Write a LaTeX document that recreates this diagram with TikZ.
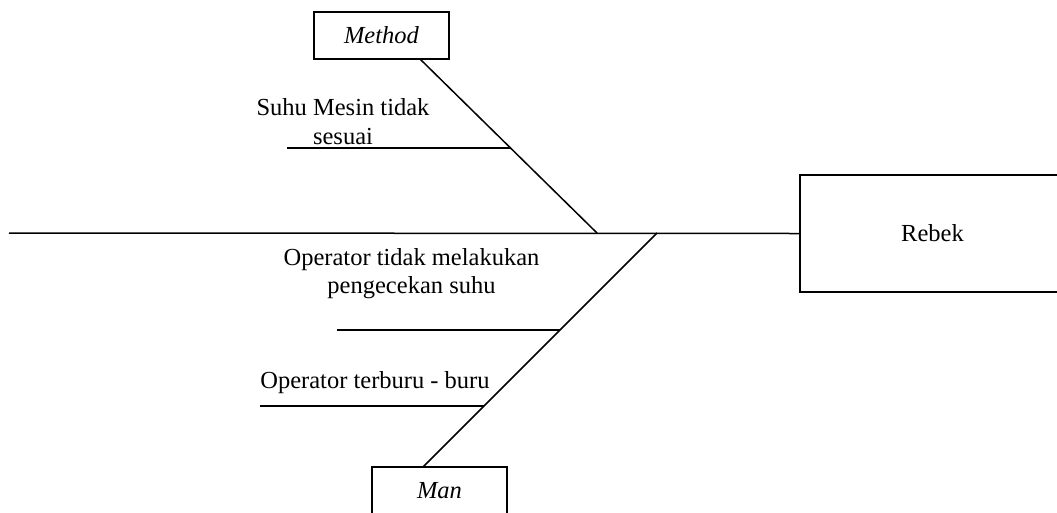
\documentclass[tikz,border=0pt]{standalone}
\usepackage{fontspec}
\setmainfont{Liberation Serif}
\begin{document}
\begin{tikzpicture}[x=1pt,y=-1pt,
  ln/.style={line width=1.5pt,black},
  catbox/.style={draw,line width=1.5pt,inner sep=0pt,minimum width=135pt,minimum height=47pt,font=\fontsize{24.5}{28}\selectfont\itshape},
  effbox/.style={draw,line width=1.5pt,inner sep=0pt,minimum width=265pt,minimum height=117pt,font=\fontsize{24.5}{28}\selectfont},
  lbl/.style={inner sep=0pt,align=center,font=\fontsize{24.5}{28.5}\selectfont}]
\useasboundingbox (0,0) rectangle (1057,512);
\clip (0,0) rectangle (1057,512);
% boxes
\node[catbox] (method) at (381.5,35.5) {Method};
\node[catbox] (man) at (439.5,490.5) {Man};
\node[effbox] (rebek) at (932.5,233.5) {Rebek};
% spine
\coordinate (s0) at (9,233);
\coordinate (j1) at (597,233);
\coordinate (j2) at (657,233);
\draw[ln] (s0) -- (rebek.west);
% method bone
\coordinate (m1) at (420,59);
\draw[ln] (m1) -- (j1);
\coordinate (b1s) at (287,148);
\coordinate (b1e) at (510.5,148);
\draw[ln] (b1s) -- (b1e);
% man bone
\coordinate (m2) at (423,467);
\draw[ln] (j2) -- (m2);
\coordinate (b2s) at (337,330);
\coordinate (b2e) at (560,330);
\draw[ln] (b2s) -- (b2e);
\coordinate (b3s) at (260,406);
\coordinate (b3e) at (484,406);
\draw[ln] (b3s) -- (b3e);
% labels
\node[lbl,anchor=base] (t1) at (343,115) {Suhu Mesin tidak};
\node[lbl,anchor=base] (t1b) at (343,144) {sesuai};
\node[lbl,anchor=base] (t2) at (411.5,265) {Operator tidak melakukan};
\node[lbl,anchor=base] (t2b) at (411.5,293) {pengecekan suhu};
\node[lbl,anchor=base] (t3) at (375,388) {Operator terburu - buru};
\end{tikzpicture}
\end{document}
